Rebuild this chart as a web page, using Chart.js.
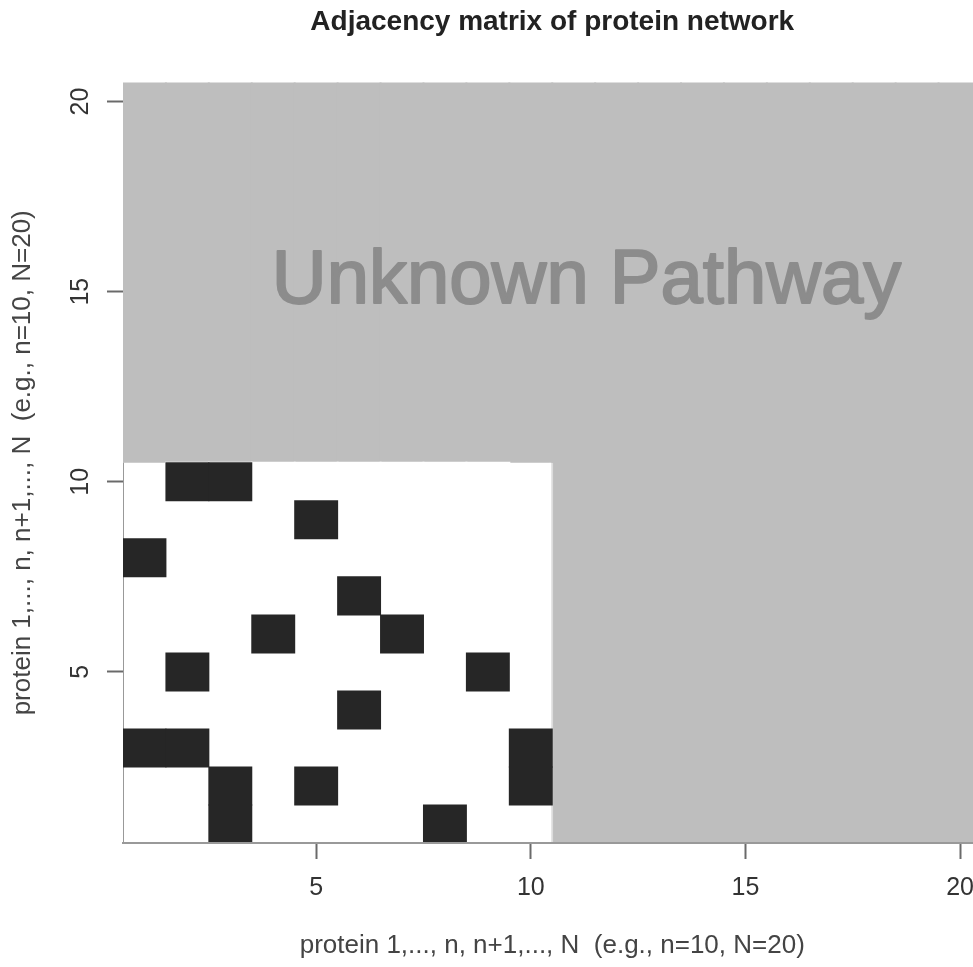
<!DOCTYPE html>
<html>
<head>
<meta charset="utf-8">
<title>Adjacency matrix of protein network</title>
<script src="https://cdn.jsdelivr.net/npm/chart.js@4.4.1/dist/chart.umd.min.js"></script>
<style>
    html, body { margin: 0; padding: 0; background: #fff; overflow: hidden; }
    #wrap { width: 990px; height: 967px; }
</style>
</head>
<body>
<div id="wrap"><canvas id="chart-adjacency" width="990" height="967"></canvas></div>
<script>
(function () {
    "use strict";

    // ======================================================================
    // Data
    //
    const
        knownCount = 10,      // n
        proteinCount = 20,    // N
        xTicks = [5, 10, 15, 20],
        yTicks = [5, 10, 15, 20],
        // rows of the known block, protein 1 (bottom row) first
        adjacency = [
            [0, 0, 1, 0, 0, 0, 0, 1, 0, 0],
            [0, 0, 1, 0, 1, 0, 0, 0, 0, 1],
            [1, 1, 0, 0, 0, 0, 0, 0, 0, 1],
            [0, 0, 0, 0, 0, 1, 0, 0, 0, 0],
            [0, 1, 0, 0, 0, 0, 0, 0, 1, 0],
            [0, 0, 0, 1, 0, 0, 1, 0, 0, 0],
            [0, 0, 0, 0, 0, 1, 0, 0, 0, 0],
            [1, 0, 0, 0, 0, 0, 0, 0, 0, 0],
            [0, 0, 0, 0, 1, 0, 0, 0, 0, 0],
            [0, 1, 1, 0, 0, 0, 0, 0, 0, 0]
        ],
        unknownLabel = 'Unknown Pathway',
        unknownLabelAt = [11.3, 15.25],
        axisLabel = 'protein 1,..., n, n+1,..., N  (e.g., n=10, N=20)';

    const FONT = '"Liberation Sans", Arial, Helvetica, sans-serif';

    // ======================================================================
    // Cells (floating bars, one protein wide)
    //
    const
        proteins = count => Array.from({ length: count }, (_, i) => i + 1),
        column = (col, from, to) => ({ x: col, y: [from, to] }),
        edges = [];

    adjacency.forEach((row, r) =>
        row.forEach((v, c) => {
            if (v) edges.push(column(c + 1, r + 0.5, r + 1.5));
        }));

    const
        knownBlock = proteins(knownCount).map(c => column(c, 0.5, knownCount + 0.5)),
        unknownBlock = proteins(proteinCount).map(c => column(c, 0.5, proteinCount + 0.5));

    // ======================================================================
    // Plugins
    //
    const unknownLabelPlugin = {
        id: 'unknownLabel',
        afterDatasetsDraw(chart) {
            const
                { ctx, scales: { x, y } } = chart,
                px = x.getPixelForValue(unknownLabelAt[0]),
                py = y.getPixelForValue(unknownLabelAt[1]);

            ctx.save();
            ctx.font = `76px ${FONT}`;
            ctx.fillStyle = '#8c8c8c';
            ctx.strokeStyle = '#8c8c8c';
            ctx.lineWidth = 2;
            ctx.lineJoin = 'round';
            ctx.textAlign = 'center';
            ctx.textBaseline = 'middle';
            ctx.fillText(unknownLabel, px, py);
            ctx.strokeText(unknownLabel, px, py);
            ctx.restore();
        }
    };

    // ======================================================================
    // Chart
    //
    const
        fixedTicks = values => scale => { scale.ticks = values.map(v => ({ value: v })); },
        tickGrid = {
            display: true,
            offset: false,
            drawOnChartArea: false,
            drawTicks: true,
            tickLength: 16,
            tickWidth: 2,
            tickColor: '#6a6a6a'
        };

    new Chart(document.getElementById('chart-adjacency'), {
        type: 'bar',
        data: {
            datasets: [
                {
                    label: 'edges',
                    data: edges,
                    backgroundColor: '#262626',
                    inflateAmount: 0.5,
                    order: 0
                },
                {
                    label: 'known',
                    data: knownBlock,
                    backgroundColor: '#ffffff',
                    borderSkipped: false,
                    borderColor: c => c.dataIndex === 0 ? '#999999' : '#dcdcdc',
                    borderWidth: c => c.dataIndex === 0 ? { left: 2, top: 0, right: 0, bottom: 0 }
                        : c.dataIndex === knownCount - 1 ? { left: 0, top: 0, right: 2, bottom: 0 } : 0,
                    inflateAmount: 1,
                    order: 1
                },
                {
                    label: 'unknown',
                    data: unknownBlock,
                    backgroundColor: '#bebebe',
                    inflateAmount: 1,
                    order: 2
                }
            ]
        },
        options: {
            responsive: false,
            devicePixelRatio: 1,
            animation: false,
            events: [],
            grouped: false,
            barPercentage: 1,
            categoryPercentage: 1,
            layout: { padding: { right: 8.5 } },
            plugins: {
                legend: { display: false },
                tooltip: { enabled: false },
                title: {
                    display: true,
                    fullSize: false,
                    text: 'Adjacency matrix of protein network',
                    color: '#222',
                    font: { family: FONT, size: 28, weight: 'bold' },
                    padding: { top: 5, bottom: 44 }
                }
            },
            scales: {
                x: {
                    type: 'linear',
                    min: 0.5,
                    max: proteinCount + 0.5,
                    offset: false,
                    afterBuildTicks: fixedTicks(xTicks),
                    afterFit: s => { s.height = 124; s.paddingLeft = 0; s.paddingRight = 0; },
                    grid: tickGrid,
                    border: { display: true, color: '#999999', width: 2, z: 1 },
                    ticks: {
                        autoSkip: false,
                        maxRotation: 0,
                        padding: 14,
                        color: '#333',
                        font: { family: FONT, size: 25 }
                    },
                    title: {
                        display: true,
                        text: axisLabel,
                        color: '#444',
                        font: { family: FONT, size: 26 },
                        padding: { top: 0, bottom: 6 }
                    }
                },
                y: {
                    type: 'linear',
                    min: 0.5,
                    max: proteinCount + 0.5,
                    afterBuildTicks: fixedTicks(yTicks),
                    afterFit: s => { s.width = 123; },
                    grid: tickGrid,
                    border: { display: false },
                    ticks: {
                        autoSkip: false,
                        minRotation: 90,
                        maxRotation: 90,
                        crossAlign: 'center',
                        padding: 12,
                        color: '#333',
                        font: { family: FONT, size: 25 }
                    },
                    title: {
                        display: true,
                        text: axisLabel,
                        color: '#444',
                        font: { family: FONT, size: 26 },
                        padding: { top: 7, bottom: 0 }
                    }
                }
            }
        },
        plugins: [unknownLabelPlugin]
    });
})();
</script>
</body>
</html>
